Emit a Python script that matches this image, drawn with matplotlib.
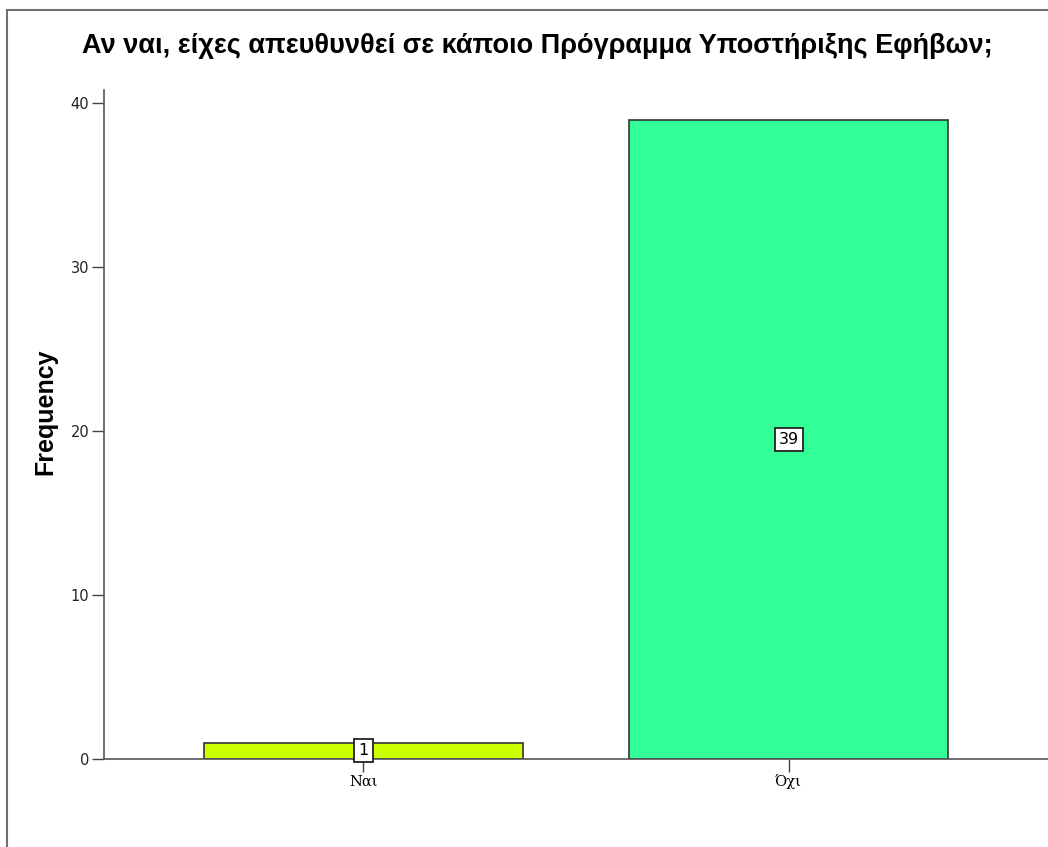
import matplotlib
matplotlib.use('Agg')
import matplotlib.pyplot as plt
from matplotlib.patches import Rectangle

# Data
categories = ['Ναι', 'Όχι']
counts = [1, 39]
bar_colors = ['#ccff00', '#33ff99']
y_ticks = [0, 10, 20, 30, 40]

title = 'Αν ναι, είχες απευθυνθεί σε κάποιο Πρόγραμμα Υποστήριξης Εφήβων;'

fig = plt.figure(figsize=(10.48, 8.47), dpi=100)
fig.patch.set_facecolor('white')

# outer frame (only left and top edges visible)
fig.patches.append(Rectangle((7 / 1048, -0.5), 2.0, 0.5 + (1 - 10 / 847),
                             transform=fig.transFigure, fill=False,
                             edgecolor='#707070', linewidth=1.5, zorder=0))

ax = fig.add_axes([104 / 1048, 1 - 759 / 847, 1 - 104 / 1048, (759 - 90) / 847])
x = list(range(len(categories)))
ax.bar(x, counts, width=0.75, color=bar_colors, edgecolor='#333333',
       linewidth=1.2, zorder=2)

ax.set_xlim(-0.61, 1.61)
ax.set_ylim(0, 40.8)
ax.set_yticks(y_ticks)
ax.set_yticklabels([str(v) for v in y_ticks], fontsize=10.5, color='#222222')
ax.set_xticks(x)
ax.set_xticklabels(categories, fontsize=10.5, family='DejaVu Serif')
ax.tick_params(axis='both', direction='out', length=9, width=1, color='#444444')
ax.tick_params(axis='y', pad=1.5)
ax.tick_params(axis='x', pad=2)

for s in ['top', 'right']:
    ax.spines[s].set_visible(False)
for s in ['left', 'bottom']:
    ax.spines[s].set_color('#555555')
    ax.spines[s].set_linewidth(1.2)

ax.set_ylabel('Frequency', fontsize=18, fontweight='bold',
              family='Liberation Sans')
ax.yaxis.set_label_coords((57 - 104) / 944, (759 - 412) / 669)

for xi, c in zip(x, counts):
    ax.text(xi, c / 2, str(c), ha='center', va='center', fontsize=11.5,
            zorder=3,
            bbox=dict(boxstyle='square,pad=0.25', facecolor='white',
                      edgecolor='#222222', linewidth=1.3))

fig.text(537 / 1048, 1 - 46 / 847, title, ha='center', va='center',
         fontsize=19.5, fontweight='bold', family='Liberation Sans')

fig.savefig('out.png', dpi=100)
